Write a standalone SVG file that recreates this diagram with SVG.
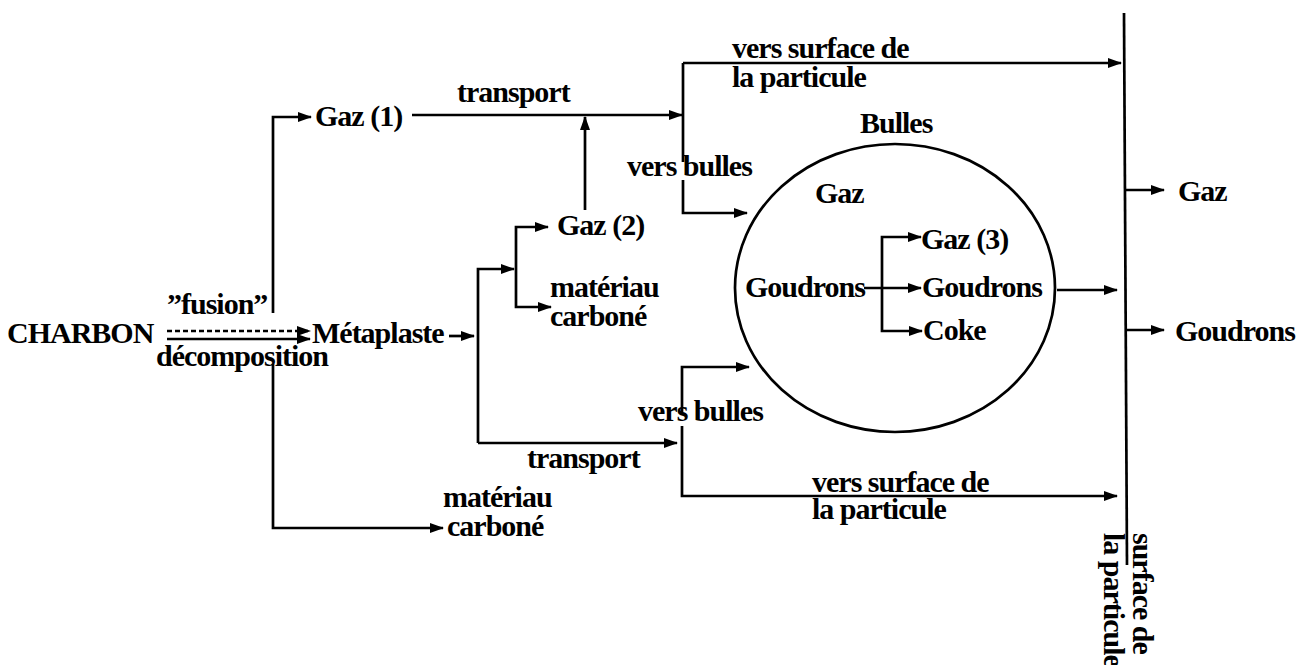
<svg xmlns="http://www.w3.org/2000/svg" width="1299" height="665" viewBox="0 0 1299 665">
<style>
text{font-family:"Liberation Serif","Times New Roman",serif;font-weight:bold;font-size:30px;letter-spacing:-1px;fill:#000}
.c{fill:none;stroke:#000;stroke-width:2.7}
.a{marker-end:url(#ah)}
.d{stroke-dasharray:5 3}
</style>
<defs>
<marker id="ah" markerUnits="userSpaceOnUse" markerWidth="14" markerHeight="10" refX="13" refY="5" orient="auto">
<path d="M0,0 L14,5 L0,10 z" fill="#000"/>
</marker>
</defs>
<rect width="1299" height="665" fill="#fff"/>
<g id="connectors">
<path class="c a d" d="M167,331 H310"/>
<path class="c a" d="M167,339 H310"/>
<path class="c a" d="M273,313 V117 H311"/>
<path class="c a" d="M273,364 V528 H443"/>
<path class="c a" d="M412,115 H682"/>
<path class="c" d="M683,162 V63"/>
<path class="c a" d="M683,63 H1121"/>
<path class="c a" d="M683,180 V213 H747"/>
<path class="c a" d="M585,210 V117"/>
<path class="c a" d="M449,336 H474"/>
<path class="c a" d="M478,443 V269 H514"/>
<path class="c a" d="M516,269 V227 H548"/>
<path class="c a" d="M516,269 V307 H551"/>
<path class="c a" d="M478,443 H677"/>
<path class="c a" d="M682,412 V367 H749"/>
<path class="c a" d="M682,426 V496 H1117"/>
<path class="c a" d="M864,288 H921"/>
<path class="c a" d="M882,288 V237 H921"/>
<path class="c a" d="M882,288 V331 H922"/>
<path class="c a" d="M1057,290 H1117"/>
<path class="c" d="M1124,13 L1127,565"/>
<path class="c a" d="M1125,190 H1164"/>
<path class="c a" d="M1126,330 H1164"/>
</g>
<g id="charbon"><text x="7" y="343">CHARBON</text></g>
<g id="fusion"><text x="167" y="314">”fusion”</text></g>
<g id="decomposition"><text x="156" y="366">décomposition</text></g>
<g id="metaplaste"><text x="312" y="343">Métaplaste</text></g>
<g id="gaz1"><text x="315" y="126">Gaz (1)</text></g>
<g id="transport1"><text x="457" y="102">transport</text></g>
<g id="versbulles1"><text x="627" y="176">vers bulles</text></g>
<g id="gaz2"><text x="557" y="235">Gaz (2)</text></g>
<g id="materiau1"><text x="550" y="297">matériau</text><text x="550" y="326">carboné</text></g>
<g id="verssurface1"><text x="732" y="58">vers surface de</text><text x="732" y="87">la particule</text></g>
<g id="bulles">
<ellipse class="c" cx="895" cy="288" rx="160" ry="144"/>
<text x="860" y="133">Bulles</text>
<text x="815" y="203">Gaz</text>
<text x="745" y="297">Goudrons</text>
<text x="921" y="249">Gaz (3)</text>
<text x="922" y="297">Goudrons</text>
<text x="923" y="340">Coke</text>
</g>
<g id="versbulles2"><text x="638" y="421">vers bulles</text></g>
<g id="transport2"><text x="527" y="468">transport</text></g>
<g id="materiau2"><text x="443" y="507">matériau</text><text x="447" y="536">carboné</text></g>
<g id="verssurface2"><text x="812" y="492">vers surface de</text><text x="812" y="519">la particule</text></g>
<g id="gazout"><text x="1178" y="201">Gaz</text></g>
<g id="goudronsout"><text x="1175" y="341">Goudrons</text></g>
<g id="surface">
<text transform="translate(1133,533) rotate(90)">surface de</text>
<text transform="translate(1104,533) rotate(90)">la particule</text>
</g>
</svg>
